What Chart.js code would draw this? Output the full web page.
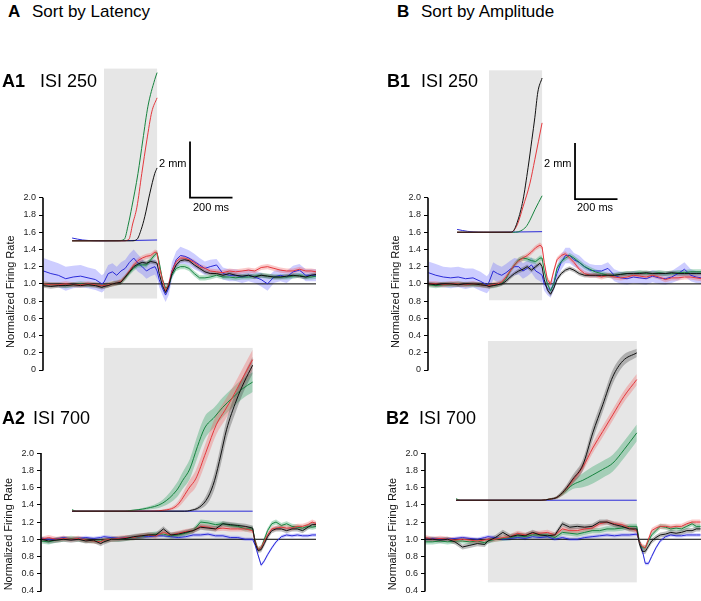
<!DOCTYPE html>
<html>
<head>
<meta charset="utf-8">
<script src="https://cdn.jsdelivr.net/npm/chart.js@4.4.1/dist/chart.umd.min.js"></script>
<style>
body { margin: 0; width: 701px; height: 601px; overflow: hidden; background: #fff; position: relative;
       font-family: "Liberation Sans", Arial, Helvetica, sans-serif; color: #000; }
canvas { position: absolute; }
.t { position: absolute; line-height: 1; white-space: nowrap; }
.b { font-weight: bold; }
</style>
</head>
<body>
<canvas id="a1" width="316" height="335" style="left:0px;top:50px"></canvas>
<canvas id="b1" width="316" height="335" style="left:385px;top:50px"></canvas>
<canvas id="a2" width="318" height="270" style="left:-2px;top:331px"></canvas>
<canvas id="b2" width="319" height="270" style="left:382px;top:331px"></canvas>

<div class="t b" style="left:8px;top:2.6px;font-size:17px">A</div>
<div class="t" style="left:32px;top:2.6px;font-size:17px">Sort by Latency</div>
<div class="t b" style="left:397px;top:2.6px;font-size:17px">B</div>
<div class="t" style="left:421px;top:2.6px;font-size:17px">Sort by Amplitude</div>
<div class="t b" style="left:2px;top:72px;font-size:18px">A1</div>
<div class="t" style="left:40px;top:72px;font-size:18px">ISI 250</div>
<div class="t b" style="left:387px;top:72px;font-size:18px">B1</div>
<div class="t" style="left:421px;top:72px;font-size:18px">ISI 250</div>
<div class="t b" style="left:2px;top:409px;font-size:18px">A2</div>
<div class="t" style="left:33px;top:409px;font-size:18px">ISI 700</div>
<div class="t b" style="left:386px;top:409px;font-size:18px">B2</div>
<div class="t" style="left:419px;top:409px;font-size:18px">ISI 700</div>
<div class="t" style="left:159px;top:158px;font-size:11px">2 mm</div>
<div class="t" style="left:193px;top:202px;font-size:11px">200 ms</div>
<div class="t" style="left:544px;top:158px;font-size:11px">2 mm</div>
<div class="t" style="left:577px;top:202px;font-size:11px">200 ms</div>

<script>
// time bases (ms from CS onset)
const tShort = [-285,-250,-215,-180,-145,-110,-75,-40,-10,0,20,40,60,80,100,120,140,160,180,200,220,240,250,
  260,275,290,305,320,340,360,380,400,425,450,475,500,530,560,590,620,650,680,710,740,770,800,830,860,890,920,950,975,1000];
const tLong = [-295,-260,-225,-190,-155,-120,-85,-50,-15,0,35,70,105,140,175,210,245,280,315,350,385,420,455,490,525,
  560,595,630,665,700,712,725,740,755,770,790,810,835,860,885,910,935,960,980,1000];

// A1 - normalized firing rate, ISI 250, sorted by latency
const a1Green = [1.0,0.99,0.99,0.98,0.99,1.0,0.99,0.99,0.98, 0.98,0.99,1.0,1.01,1.02,1.07,1.13,1.18,1.22,1.22,1.22,1.28,1.34,1.36,
  1.25,1.05,0.95,0.98,1.1,1.18,1.2,1.2,1.18, 1.12,1.07,1.07,1.08, 1.1,1.08,1.08,1.07,1.08,1.08,1.09,1.1,1.09,1.08,1.08,1.08,1.09,1.1,1.08, 1.08,1.09];
const a1Red = [1.0,0.99,0.99,1.0,0.99,0.99,1.0,0.99,0.98, 0.98,0.99,1.0,1.01,1.03,1.08,1.15,1.22,1.27,1.3,1.32,1.33,1.37,1.36,
  1.2,1.05,0.92,1.0,1.15,1.26,1.3,1.3,1.28, 1.25,1.2,1.18,1.15, 1.14,1.13,1.15,1.14,1.15,1.16,1.15,1.19,1.2,1.18,1.16,1.15,1.15,1.17,1.15, 1.15,1.14];
const a1Black = [0.98,0.97,0.98,0.98,0.99,0.98,0.99,0.98,0.96, 0.97,0.98,1.0,1.01,1.02,1.08,1.14,1.2,1.23,1.25,1.24,1.26,1.25,1.24,
  1.12,0.98,0.9,0.98,1.12,1.22,1.27,1.28,1.27, 1.22,1.18,1.14,1.12, 1.12,1.1,1.12,1.1,1.09,1.1,1.08,1.1,1.09,1.08,1.08,1.09,1.1,1.09,1.08, 1.1,1.11];
const a1Blue = [1.15,1.12,1.1,1.06,1.08,1.09,1.07,1.05,1.0, 1.02,1.12,1.14,1.1,1.15,1.18,1.25,1.3,1.24,1.2,1.15,1.18,1.2,1.15,
  1.05,0.95,0.87,0.95,1.15,1.28,1.33,1.32,1.3, 1.26,1.22,1.18,1.2, 1.22,1.12,1.1,1.1,1.08,1.1,1.08,1.05,1.0,1.08,1.1,1.08,1.14,1.16,1.1, 1.1,1.1];
const a1BlueSem = [0.15,0.15,0.14,0.14,0.13,0.13,0.12,0.12,0.1, 0.1,0.1,0.1,0.1,0.1,0.1,0.1,0.1,0.1,0.09,0.09,0.09,0.09,0.09,
  0.09,0.08,0.08,0.08,0.1,0.1,0.1,0.09,0.09, 0.09,0.08,0.08,0.08, 0.07,0.07,0.07,0.07,0.07,0.07,0.07,0.08,0.08,0.07,0.07,0.07,0.07,0.07,0.07, 0.07,0.07];

// B1 - ISI 250, sorted by amplitude
const b1Green = [0.99,0.98,0.99,0.99,1.0,0.99,0.99,0.99,0.98, 0.98,0.98,0.99,1.01,1.06,1.15,1.22,1.28,1.3,1.29,1.27,1.26,1.3,1.3,
  1.15,1.0,0.92,1.0,1.18,1.26,1.3,1.33,1.3, 1.25,1.2,1.17,1.14, 1.12,1.1,1.1,1.11,1.12,1.12,1.13,1.12,1.12,1.13,1.12,1.12,1.13,1.13,1.14, 1.14,1.14];
const b1Red = [1.0,1.0,0.99,1.0,1.0,0.99,1.0,0.99,0.98, 0.98,0.99,1.0,1.02,1.08,1.15,1.22,1.27,1.3,1.33,1.37,1.42,1.45,1.43,
  1.25,1.05,1.0,1.15,1.28,1.33,1.35,1.3,1.25, 1.17,1.12,1.1,1.1, 1.08,1.1,1.08,1.07,1.08,1.1,1.09,1.08,1.1,1.08,1.05,1.07,1.07,1.08,1.08, 1.07,1.06];
const b1Black = [1.0,0.99,1.0,1.0,0.99,1.0,1.0,0.99,0.98, 0.97,0.98,0.99,1.0,1.03,1.08,1.12,1.15,1.17,1.2,1.16,1.2,1.24,1.2,
  1.05,0.93,0.88,0.95,1.05,1.12,1.16,1.18,1.16, 1.12,1.1,1.1,1.1, 1.1,1.1,1.1,1.11,1.12,1.12,1.12,1.13,1.12,1.12,1.12,1.13,1.12,1.12,1.12, 1.12,1.12];
const b1Blue = [1.13,1.1,1.08,1.07,1.08,1.06,1.07,1.03,0.99, 1.02,1.15,1.12,1.1,1.13,1.17,1.2,1.2,1.15,1.18,1.22,1.15,1.12,1.1,
  1.0,0.95,0.92,1.0,1.12,1.25,1.33,1.33,1.28, 1.25,1.2,1.16,1.15, 1.15,1.18,1.1,1.07,1.06,1.08,1.07,1.06,1.09,1.07,1.06,1.08,1.12,1.17,1.1, 1.08,1.07];
const b1BlueSem = [0.13,0.13,0.12,0.12,0.12,0.12,0.11,0.11,0.1, 0.1,0.1,0.1,0.1,0.1,0.1,0.1,0.09,0.09,0.09,0.09,0.09,0.09,0.09,
  0.08,0.08,0.08,0.08,0.09,0.09,0.09,0.09,0.08, 0.08,0.07,0.07,0.07, 0.07,0.07,0.07,0.07,0.07,0.07,0.07,0.07,0.07,0.07,0.07,0.07,0.08,0.08,0.07, 0.07,0.07];

// A2 - ISI 700, sorted by latency
const a2Green = [0.98,0.97,0.99,1.0,1.01,1.0,0.99,0.98,0.98, 0.99,1.0,1.0,1.01,1.02,1.03,1.05,1.06,1.06,1.04,1.05,1.07,1.1,1.2,1.19,1.17,1.18,1.16,1.15,1.12,1.12,
  0.98,0.88,0.9,1.0,1.1,1.18,1.2,1.16,1.18,1.15,1.14,1.13,1.15,1.14,1.15];
const a2Red = [1.0,1.02,1.0,1.01,1.0,1.01,0.99,0.98,0.97, 0.99,1.0,1.01,1.02,1.02,1.04,1.05,1.04,1.08,1.05,1.07,1.09,1.1,1.15,1.14,1.12,1.13,1.12,1.12,1.12,1.1,
  0.97,0.88,0.9,0.98,1.05,1.12,1.13,1.14,1.13,1.13,1.15,1.15,1.17,1.2,1.18];
const a2Black = [1.0,0.98,0.99,1.0,0.99,1.0,0.98,0.99,0.95, 0.97,1.0,1.0,1.01,1.03,1.04,1.05,1.05,1.12,1.05,1.06,1.08,1.1,1.14,1.13,1.12,1.18,1.17,1.16,1.15,1.13,
  0.95,0.87,0.88,0.95,1.03,1.1,1.12,1.12,1.1,1.12,1.12,1.1,1.14,1.17,1.17];
const a2Blue = [1.01,1.0,1.0,1.02,1.0,1.01,1.02,1.01,1.02, 1.03,1.02,1.01,1.02,1.02,1.03,1.03,1.04,1.04,1.03,1.02,1.03,1.05,1.05,1.06,1.04,1.04,1.02,1.02,1.0,1.0,
  0.93,0.82,0.7,0.75,0.82,0.9,0.97,1.03,1.05,1.04,1.05,1.04,1.04,1.05,1.05];

// B2 - ISI 700, sorted by amplitude
const b2Green = [0.97,0.97,0.98,0.97,0.98,0.98,0.97,0.98,0.96, 0.98,1.0,1.01,1.02,1.04,1.03,1.05,1.05,1.05,1.02,1.08,1.07,1.06,1.08,1.1,1.1,1.12,1.12,1.13,1.15,1.15,
  0.98,0.9,0.9,0.98,1.05,1.1,1.15,1.14,1.12,1.13,1.12,1.15,1.18,1.15,1.15];
const b2Red = [1.02,1.0,1.01,1.0,0.99,1.0,0.99,0.98,0.99, 1.0,1.0,1.02,1.03,1.07,1.05,1.07,1.07,1.08,1.05,1.12,1.1,1.1,1.12,1.13,1.18,1.2,1.18,1.17,1.13,1.1,
  0.97,0.92,0.9,1.0,1.1,1.13,1.15,1.15,1.14,1.15,1.15,1.18,1.2,1.2,1.2];
const b2Black = [1.0,1.0,0.99,1.0,0.97,0.91,0.93,0.95,0.94, 0.98,1.02,1.08,1.03,1.05,1.04,1.08,1.05,1.04,1.05,1.18,1.14,1.15,1.14,1.15,1.2,1.2,1.17,1.15,1.12,1.12,
  0.95,0.86,0.86,0.92,0.98,1.02,1.05,1.06,1.08,1.07,1.08,1.1,1.1,1.12,1.12];
const b2Blue = [1.0,1.01,1.0,1.0,1.01,1.02,1.01,1.0,1.02, 1.03,1.02,1.0,1.01,1.02,1.01,1.03,1.02,1.03,1.0,1.02,1.0,1.0,1.02,1.03,1.04,1.05,1.04,1.05,1.05,1.06,
  0.98,0.88,0.72,0.72,0.8,0.9,0.98,1.03,1.05,1.04,1.04,1.05,1.05,1.05,1.05];

// eyelid traces: [ms, mm] or [ms, mm, sem]
const a1EyeGreen = [[-150,0],[60,0],[95,0.05],[115,0.6],[131,1.2],[160,2.4],[183,3.6],[207,4.8],[239,5.75],[250,6.0]];
const a1EyeRed = [[-150,0],[90,0],[117,0.05],[135,0.6],[155,1.2],[178,2.4],[202,3.6],[225,4.6],[250,5.1]];
const a1EyeBlack = [[-150,0],[130,0],[155,0.05],[175,0.4],[192,0.86],[216,1.7],[239,2.4],[250,2.6]];
const a1EyeBlue = [[-150,0.1],[-100,0.03],[0,0],[250,0.03]];

const b1EyeGreen = [[-150,0],[125,0],[150,0.05],[175,0.2],[193,0.43],[216,0.8],[250,1.3]];
const b1EyeRed = [[-150,0],[100,0],[113,0.03],[135,0.3],[160,0.9],[193,1.75],[216,2.6],[250,3.9]];
const b1EyeBlack = [[-150,0],[100,0],[113,0.03],[135,0.4],[160,1.14],[184,2.3],[202,3.3],[216,4.1],[230,5.0],[250,5.5]];
const b1EyeBlue = [[-150,0.1],[-100,0.03],[0,0],[250,0.02]];

const a2EyeGreen = [[-150,0.05,0.03],[-130,0,0.02],[100,0,0.02],[122,0.02,0.02],[200,0.1,0.05],[277,0.29,0.12],[343,0.75,0.25],
  [371,1.1,0.3],[404,1.5,0.35],[440,2.3,0.4],[474,2.96,0.4],[520,3.35,0.35],[559,3.7,0.35],[607,4.05,0.35],[650,4.35,0.35],[700,4.6,0.35]];
const a2EyeRed = [[-150,0,0.02],[200,0,0.02],[277,0.03,0.03],[343,0.2,0.1],[404,0.86,0.25],[432,1.15,0.3],[480,2.1,0.35],
  [530,3.1,0.35],[570,3.6,0.35],[606,4.07,0.35],[650,4.7,0.35],[700,5.4,0.35]];
const a2EyeBlack = [[-150,0,0.02],[380,0,0.02],[404,0.02,0.03],[451,0.15,0.08],[490,0.5,0.2],[521,1.1,0.3],[550,2.0,0.35],
  [577,2.9,0.35],[624,3.96,0.35],[660,4.6,0.3],[700,5.2,0.3]];
const a2EyeBlue = [[-150,0],[700,0]];

const b2EyeGreen = [[-150,0.05,0.03],[-130,0,0.02],[250,0,0.02],[291,0.04,0.03],[324,0.1,0.05],[360,0.3,0.1],[399,0.55,0.15],
  [446,0.71,0.25],[493,0.9,0.3],[540,1.1,0.3],[587,1.32,0.3],[640,1.8,0.3],[700,2.4,0.3]];
const b2EyeRed = [[-150,0,0.02],[250,0,0.02],[291,0.04,0.03],[324,0.1,0.05],[360,0.33,0.1],[399,0.7,0.12],[446,1.18,0.15],
  [493,1.86,0.18],[540,2.45,0.2],[587,3.04,0.2],[640,3.7,0.2],[700,4.3,0.2]];
const b2EyeBlack = [[-150,0,0.02],[250,0,0.02],[291,0.04,0.03],[324,0.1,0.05],[360,0.35,0.1],[399,0.75,0.15],[446,1.25,0.2],
  [493,2.4,0.25],[540,3.4,0.25],[587,4.4,0.25],[634,4.96,0.2],[700,5.25,0.15]];
const b2EyeBlue = [[-150,0],[700,0]];

// scale bar (2 mm x 200 ms)
const scaleBarMs = 200;
const scaleBarMm = 2;

// on-screen size of 1 mm of eyelid, in firing-rate units
const EYE_K = 28 / 86;

const COLORS = {
    green: { line: '#17843f', band: 'rgba(40,160,95,0.35)' },
    red:   { line: '#e5383d', band: 'rgba(240,100,100,0.35)' },
    black: { line: '#111111', band: 'rgba(70,70,70,0.35)' },
    blue:  { line: '#2a2ad8', band: 'rgba(100,100,255,0.32)' }
};
const LINE_ORDER = { black: 1, red: 2, green: 3, blue: 4 };
const FONT = 'Liberation Sans, Arial, sans-serif';

// gray CS box, the short y axis line and the axis title
const panelDecor = {
    id: 'panelDecor',
    beforeDatasetsDraw(chart, args, opts) {
        const { ctx, scales: { x, y } } = chart;
        const x0 = x.getPixelForValue(0), x1 = x.getPixelForValue(opts.isi);
        const y0 = y.getPixelForValue(opts.boxTop), y1 = y.getPixelForValue(opts.boxBottom);
        ctx.save();
        ctx.fillStyle = '#e6e6e6';
        ctx.fillRect(x0, y0, x1 - x0, y1 - y0);
        ctx.restore();
    },
    afterDraw(chart, args, opts) {
        const { ctx, scales: { y }, chartArea } = chart;
        ctx.save();
        ctx.strokeStyle = '#000';
        ctx.lineWidth = 1.6;
        ctx.beginPath();
        ctx.moveTo(chartArea.left, y.getPixelForValue(y.min) + 0.5);
        ctx.lineTo(chartArea.left, y.getPixelForValue(2));
        ctx.stroke();

        // y axis title, centred on the visible part of the axis
        ctx.translate(y.left + 10.6, y.getPixelForValue(opts.titleAt));
        ctx.rotate(-Math.PI / 2);
        ctx.fillStyle = '#111';
        ctx.font = '11px ' + FONT;
        ctx.textAlign = 'center';
        ctx.textBaseline = 'middle';
        ctx.fillText('Normalized Firing Rate', 0, 0);
        ctx.restore();
    }
};

const buildPanel = (p) => {
    const ds = [];

    // firing-rate SEM bands and mean lines
    p.rates.forEach(s => {
        const c = COLORS[s.color];
        const semAt = j => Array.isArray(s.sem) ? s.sem[j] : s.sem;
        const bandOrder = 30 + LINE_ORDER[s.color] + (s.color === 'blue' ? 10 : 0);
        ds.push({ data: p.times.map((t, j) => ({ x: t, y: s.values[j] + semAt(j) })), fill: '+1',
                  backgroundColor: c.band, borderColor: 'rgba(0,0,0,0)', borderWidth: 0, pointRadius: 0, order: bandOrder });
        ds.push({ data: p.times.map((t, j) => ({ x: t, y: s.values[j] - semAt(j) })), fill: false,
                  borderColor: 'rgba(0,0,0,0)', borderWidth: 0, pointRadius: 0, order: bandOrder });
        ds.push({ data: p.times.map((t, j) => ({ x: t, y: s.values[j] })), borderColor: c.line, borderWidth: 1,
                  pointRadius: 0, fill: false, order: 10 + LINE_ORDER[s.color] });
    });

    // baseline at 1.0
    ds.push({ data: [{ x: p.xMin, y: 1 }, { x: p.xMax, y: 1 }], borderColor: '#000', borderWidth: 1,
              pointRadius: 0, fill: false, order: 20 });

    // eyelid traces
    p.eyes.forEach(s => {
        const c = COLORS[s.color];
        if (s.pts[0].length > 2) {
            ds.push({ data: s.pts.map(q => ({ x: q[0], y: q[1] + q[2] })), yAxisID: 'eye', fill: '+1',
                      cubicInterpolationMode: 'monotone', backgroundColor: c.band, borderColor: 'rgba(0,0,0,0)',
                      borderWidth: 0, pointRadius: 0, order: 25 + LINE_ORDER[s.color] });
            ds.push({ data: s.pts.map(q => ({ x: q[0], y: q[1] - q[2] })), yAxisID: 'eye', fill: false,
                      cubicInterpolationMode: 'monotone', borderColor: 'rgba(0,0,0,0)', borderWidth: 0,
                      pointRadius: 0, order: 25 + LINE_ORDER[s.color] });
        }
        ds.push({ data: s.pts.map(q => ({ x: q[0], y: q[1] })), yAxisID: 'eye', borderColor: c.line,
                  borderWidth: 1, pointRadius: 0, fill: false, cubicInterpolationMode: 'monotone',
                  order: LINE_ORDER[s.color] });
    });

    // scale bar
    if (p.bar) {
        ds.push({ data: [{ x: p.bar.t + scaleBarMs, y: p.bar.mm }, { x: p.bar.t, y: p.bar.mm },
                         { x: p.bar.t, y: p.bar.mm + scaleBarMm }],
                  yAxisID: 'eye', borderColor: '#000', borderWidth: 1.8, pointRadius: 0, fill: false, order: 0 });
    }

    new Chart(document.getElementById(p.id), {
        type: 'line',
        data: { datasets: ds },
        plugins: [panelDecor],
        options: {
            responsive: false,
            devicePixelRatio: 1,
            animation: false,
            events: [],
            layout: { padding: { top: 10, bottom: p.padBottom, left: 0, right: 0 } },
            scales: {
                x: { type: 'linear', display: false, min: p.xMin, max: p.xMax },
                y: {
                    type: 'linear', position: 'left', min: p.yMin, max: p.yMax,
                    afterBuildTicks: s => { s.ticks = s.ticks.filter(t => t.value <= 2.0001); },
                    afterFit: s => { s.width = 43; },
                    border: { display: false },
                    grid: { drawOnChartArea: false, drawTicks: true, tickLength: 4, color: '#000', lineWidth: 1 },
                    ticks: {
                        stepSize: 0.2, autoSkip: false, padding: 3, color: '#222',
                        font: { family: FONT, size: 9 },
                        callback: v => Math.abs(v) < 1e-6 ? '0' : v.toFixed(1)
                    }
                },
                eye: {
                    type: 'linear', display: false,
                    min: (p.yMin - p.eyeBase) / EYE_K, max: (p.yMax - p.eyeBase) / EYE_K
                }
            },
            plugins: {
                legend: { display: false },
                tooltip: { enabled: false },
                panelDecor: { isi: p.isi, boxTop: p.boxTop, boxBottom: p.boxBottom, titleAt: p.titleAt }
            }
        }
    });
};

buildPanel({
    id: 'a1', times: tShort, isi: 250, boxTop: 3.5, boxBottom: 0.83,
    yMin: 0, yMax: 3.6, xMin: -287, xMax: 998, eyeBase: 1.5, padBottom: 15, titleAt: 0.91,
    rates: [
        { color: 'blue', values: a1Blue, sem: a1BlueSem },
        { color: 'green', values: a1Green, sem: 0.03 },
        { color: 'red', values: a1Red, sem: 0.03 },
        { color: 'black', values: a1Black, sem: 0.025 }
    ],
    eyes: [
        { color: 'blue', pts: a1EyeBlue }, { color: 'green', pts: a1EyeGreen },
        { color: 'red', pts: a1EyeRed }, { color: 'black', pts: a1EyeBlack }
    ],
    bar: { t: 405, mm: 1.54 }
});

buildPanel({
    id: 'b1', times: tShort, isi: 250, boxTop: 3.48, boxBottom: 0.81,
    yMin: 0, yMax: 3.6, xMin: -287, xMax: 998, eyeBase: 1.6, padBottom: 15, titleAt: 0.91,
    rates: [
        { color: 'blue', values: b1Blue, sem: b1BlueSem },
        { color: 'green', values: b1Green, sem: 0.03 },
        { color: 'red', values: b1Red, sem: 0.03 },
        { color: 'black', values: b1Black, sem: 0.025 }
    ],
    eyes: [
        { color: 'blue', pts: b1EyeBlue }, { color: 'green', pts: b1EyeGreen },
        { color: 'red', pts: b1EyeRed }, { color: 'black', pts: b1EyeBlack }
    ],
    bar: { t: 405, mm: 1.18 }
});

buildPanel({
    id: 'a2', times: tLong, isi: 700, boxTop: 3.22, boxBottom: 0.41,
    yMin: 0.4, yMax: 3.3, xMin: -296, xMax: 998, eyeBase: 1.326, padBottom: 10, titleAt: 1.06,
    rates: [
        { color: 'blue', values: a2Blue, sem: 0.02 },
        { color: 'green', values: a2Green, sem: 0.03 },
        { color: 'red', values: a2Red, sem: 0.03 },
        { color: 'black', values: a2Black, sem: 0.03 }
    ],
    eyes: [
        { color: 'blue', pts: a2EyeBlue }, { color: 'green', pts: a2EyeGreen },
        { color: 'red', pts: a2EyeRed }, { color: 'black', pts: a2EyeBlack }
    ]
});

buildPanel({
    id: 'b2', times: tLong, isi: 700, boxTop: 3.3, boxBottom: 0.5,
    yMin: 0.4, yMax: 3.3, xMin: -296, xMax: 1002, eyeBase: 1.453, padBottom: 10, titleAt: 1.06,
    rates: [
        { color: 'blue', values: b2Blue, sem: 0.02 },
        { color: 'green', values: b2Green, sem: 0.03 },
        { color: 'red', values: b2Red, sem: 0.03 },
        { color: 'black', values: b2Black, sem: 0.03 }
    ],
    eyes: [
        { color: 'blue', pts: b2EyeBlue }, { color: 'green', pts: b2EyeGreen },
        { color: 'red', pts: b2EyeRed }, { color: 'black', pts: b2EyeBlack }
    ]
});
</script>
</body>
</html>
